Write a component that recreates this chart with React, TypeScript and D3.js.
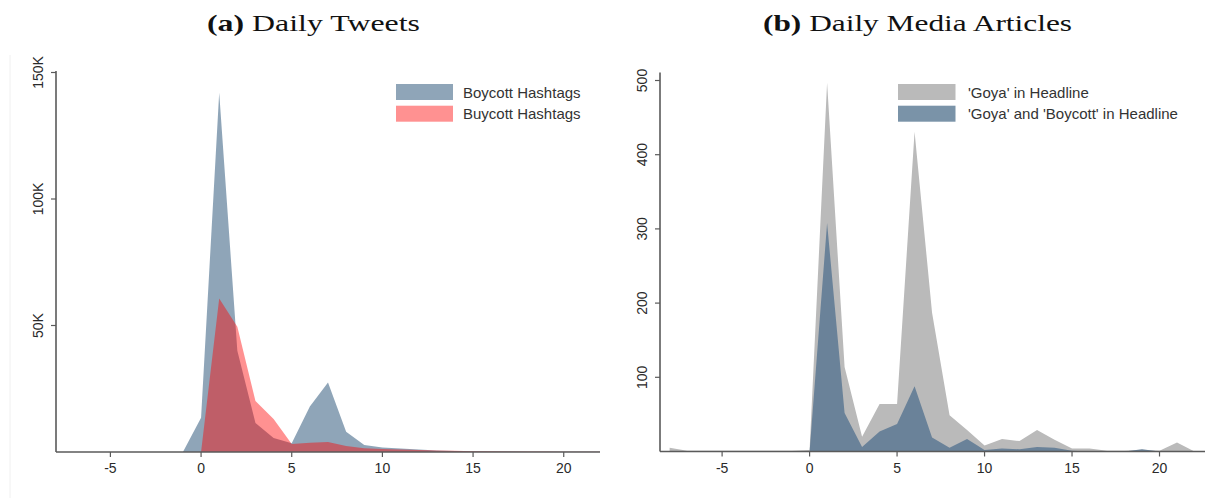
import React from "react";
import * as d3 from "d3";

const days: number[] = [-8,-7,-6,-5,-4,-3,-2,-1,0,1,2,3,4,5,6,7,8,9,10,11,12,13,14,15,16,17,18,19,20,21,22];

// Panel (a): daily tweets
const boycottTweets: number[] = [0,0,0,0,0,0,0,0,13500,142000,40000,11500,5500,3500,18000,27500,8000,2800,1800,1400,1000,600,400,300,200,150,100,100,100,50,50];
const buycottTweets: number[] = [0,0,0,0,0,0,0,0,0,60700,49500,20200,13000,3200,3700,4000,2400,1500,1200,1000,800,600,450,300,250,200,150,150,100,100,100];

// Panel (b): daily media articles
const goyaHeadline: number[] = [5,1,1,1,1,1,1,1,2,497,114,20,64,64,431,187,49,29,8,17,14,29,16,4,4,1,1,2,1,12,0];
const goyaBoycottHeadline: number[] = [0,0,0,0,0,0,0,0,0,308,52,6,27,37,88,19,5,17,2,4,3,6,5,1,0,0,0,3,0,0,0];

const xTicks: number[] = [-5,0,5,10,15,20];
const yTicksA: number[] = [50000,100000,150000];
const yTickLabelsA: string[] = ["50K","100K","150K"];
const yTicksB: number[] = [100,200,300,400,500];

const legendA: string[] = ["Boycott Hashtags","Buycott Hashtags"];
const legendB: string[] = ["'Goya' in Headline","'Goya' and 'Boycott' in Headline"];

const sans = "'Liberation Sans', Arial, Helvetica, sans-serif";
const serif = "'Liberation Serif', 'DejaVu Serif', serif";
const axisColor = "#5a5a5a";
const textColor = "#2a2a2a";

function Axes({ x, y, yTicks, yLabels, x0, x1, yTop }: any) {
  const base = y(0);
  return (
    <g>
      <line x1={x0} x2={x1} y1={base} y2={base} stroke={axisColor} strokeWidth={1.6} />
      <line x1={x0} x2={x0} y1={base} y2={yTop} stroke={axisColor} strokeWidth={1.6} />
      {xTicks.map((t) => (
        <g key={"x" + t}>
          <line x1={x(t)} x2={x(t)} y1={base} y2={base + 5} stroke={axisColor} strokeWidth={1.2} />
          <text x={x(t)} y={base + 21} textAnchor="middle" fontFamily={sans} fontSize={14} fill={textColor}>{t}</text>
        </g>
      ))}
      {yTicks.map((t: number, i: number) => (
        <g key={"y" + t}>
          <line x1={x0} x2={x0 - 5} y1={y(t)} y2={y(t)} stroke={axisColor} strokeWidth={1.2} />
          <text transform={`translate(${x0 - 13},${y(t)}) rotate(-90)`} textAnchor="middle" fontFamily={sans} fontSize={14} fill={textColor}>{yLabels[i]}</text>
        </g>
      ))}
    </g>
  );
}

export default function App() {
  // Panel a scales
  const xa = d3.scaleLinear().domain([-8, 22]).range([56, 600]);
  const ya = d3.scaleLinear().domain([0, 150000]).range([452, 72.5]);
  const areaA = (vals: number[]) =>
    d3.area<number>().x((_, i) => xa(days[i])).y0(ya(0)).y1((d) => ya(d))(vals) || "";

  // Panel b scales
  const xb = d3.scaleLinear().domain([-8.55, 22.6]).range([660, 1205]);
  const yb = d3.scaleLinear().domain([0, 500]).range([451.5, 80.5]);
  const areaB = (vals: number[]) =>
    d3.area<number>().x((_, i) => xb(days[i])).y0(yb(0)).y1((d) => yb(d))(vals) || "";

  const blueA = "rgba(26,71,111,0.49)";
  const redA = "rgba(255,0,0,0.43)";
  const grayB = "#bababa";
  const blueB = "#6a8299";
  const blueBLegend = "#7a93a8";

  return (
    <svg width={1215} height={498} style={{ display: "block", position: "absolute", left: 0, top: 0 }}>
      <rect x={0} y={0} width={1215} height={498} fill="#fff" />
      <line x1={10} x2={10} y1={55} y2={498} stroke="#f0f0f0" strokeWidth={1} />

      {/* Titles */}
      <text x={207} y={31} fontFamily={serif} fontSize={24} fill="#111" textLength={213} lengthAdjust="spacingAndGlyphs">
        <tspan fontWeight="bold">(a)</tspan> Daily Tweets
      </text>
      <text x={763} y={31} fontFamily={serif} fontSize={24} fill="#111" textLength={309} lengthAdjust="spacingAndGlyphs">
        <tspan fontWeight="bold">(b)</tspan> Daily Media Articles
      </text>

      {/* Panel a */}
      <path d={areaA(boycottTweets)} fill={blueA} />
      <path d={areaA(buycottTweets)} fill={redA} />
      <Axes x={xa} y={ya} yTicks={yTicksA} yLabels={yTickLabelsA} x0={56} x1={600} yTop={71} />
      {legendA.map((l, i) => (
        <g key={l}>
          <rect x={396} y={84 + i * 21.7} width={57} height={16} fill={i === 0 ? blueA : redA} />
          <text x={463} y={97.5 + i * 21.7} fontFamily={sans} fontSize={15} fill="#333">{l}</text>
        </g>
      ))}

      {/* Panel b */}
      <path d={areaB(goyaHeadline)} fill={grayB} />
      <path d={areaB(goyaBoycottHeadline)} fill={blueB} />
      <Axes x={xb} y={yb} yTicks={yTicksB} yLabels={yTicksB.map(String)} x0={660} x1={1205} yTop={72.5} />
      {legendB.map((l, i) => (
        <g key={l}>
          <rect x={898} y={84 + i * 21.7} width={57.5} height={16} fill={i === 0 ? grayB : blueBLegend} />
          <text x={968} y={97.5 + i * 21.7} fontFamily={sans} fontSize={15} fill="#333">{l}</text>
        </g>
      ))}
    </svg>
  );
}
